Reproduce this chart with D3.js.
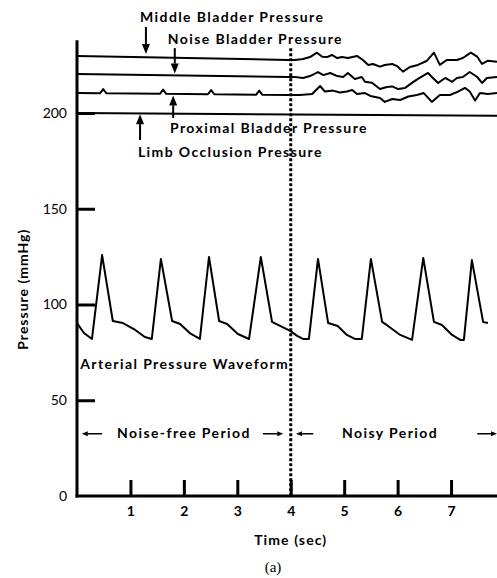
<!DOCTYPE html>
<html>
<head>
<meta charset="utf-8">
<script src="https://cdn.jsdelivr.net/npm/d3@7"></script>
<style>
  body { margin: 0; background: #fff; }
  svg { display: block; }
  text { font-family: Lato, "Open Sans", sans-serif; fill: #000; }
</style>
</head>
<body>
<svg id="chart" width="497" height="578"></svg>
<script>
'use strict'

// tick labels
const yTicks = [0, 50, 100, 150, 200]
const xTicks = [1, 2, 3, 4, 5, 6, 7]

// arterial pressure waveform (sec, mmHg)
const arterialT = [0, 0.13, 0.28, 0.47, 0.67, 0.86, 1.09, 1.27, 1.40, 1.57, 1.78, 1.93, 2.11, 2.30, 2.47, 2.66, 2.81, 3.01, 3.22, 3.44, 3.65, 3.80, 3.99, 4.12, 4.23, 4.34, 4.51, 4.70, 4.88, 5.05, 5.20, 5.33, 5.50, 5.71, 5.82, 6.05, 6.27, 6.48, 6.68, 6.83, 7.02, 7.17, 7.24, 7.39, 7.60, 7.69]
const arterialP = [90.3, 85.1, 82.0, 125.8, 91.4, 90.3, 86.7, 83.0, 82.0, 123.8, 91.4, 89.8, 85.1, 82.0, 124.8, 91.4, 89.8, 84.6, 82.0, 124.8, 90.9, 88.8, 86.2, 83.6, 82.0, 82.0, 123.8, 90.3, 88.8, 84.1, 82.0, 82.0, 123.8, 90.9, 88.8, 84.1, 81.5, 124.3, 90.9, 89.3, 84.1, 81.5, 81.5, 123.2, 90.9, 90.3]

// middle bladder pressure
const middleT = [0, 3.95, 4.08, 4.23, 4.36, 4.49, 4.59, 4.68, 4.77, 4.87, 4.96, 5.07, 5.24, 5.35, 5.45, 5.54, 5.67, 5.76, 5.90, 5.99, 6.10, 6.23, 6.38, 6.55, 6.68, 6.79, 6.92, 7.11, 7.22, 7.37, 7.49, 7.58, 7.69, 7.86]
const middleP = [229.8, 227.7, 227.7, 228.2, 229.2, 231.5, 229.4, 229.2, 230.3, 228.7, 229.2, 228.7, 229.8, 227.7, 225.1, 225.6, 224.2, 225.1, 225.6, 224.5, 221.6, 224.0, 225.1, 227.3, 231.5, 225.1, 227.7, 227.7, 228.7, 231.5, 229.4, 225.6, 227.3, 226.8]

// noise bladder pressure
const noiseT = [0, 3.95, 4.08, 4.23, 4.36, 4.51, 4.61, 4.74, 4.87, 4.98, 5.07, 5.20, 5.33, 5.39, 5.52, 5.67, 5.80, 5.90, 6.01, 6.14, 6.27, 6.38, 6.57, 6.66, 6.76, 6.89, 7.02, 7.11, 7.22, 7.35, 7.49, 7.58, 7.67, 7.86]
const noiseP = [220.4, 218.8, 218.8, 218.3, 219.3, 221.4, 219.8, 220.9, 219.3, 218.8, 220.9, 217.8, 218.8, 216.3, 215.8, 212.5, 213.6, 213.9, 212.5, 213.1, 215.7, 217.8, 220.9, 218.3, 215.7, 218.3, 216.3, 218.3, 218.8, 221.4, 218.8, 215.7, 218.3, 218.8]

// proximal bladder pressure (small pulse artifacts before the noise)
const proximalT = [0, 0.43, 0.49, 0.55, 1.55, 1.61, 1.67, 2.45, 2.51, 2.57, 3.35, 3.41, 3.47, 3.95, 4.17, 4.40, 4.55, 4.64, 4.79, 4.92, 5.05, 5.15, 5.24, 5.39, 5.49, 5.67, 5.76, 5.90, 6.05, 6.20, 6.36, 6.49, 6.64, 6.79, 6.98, 7.13, 7.26, 7.35, 7.45, 7.54, 7.69, 7.86]
const proximalP = [210.4, 210.3, 212.5, 210.3, 210.0, 212.2, 210.0, 209.8, 212.0, 209.8, 209.5, 211.7, 209.5, 209.4, 209.4, 209.9, 214.1, 211.2, 211.7, 210.7, 211.2, 212.0, 209.9, 210.4, 208.9, 207.8, 205.8, 207.3, 206.8, 208.6, 209.4, 210.4, 205.8, 209.4, 209.4, 211.2, 213.1, 211.2, 206.5, 210.4, 209.9, 210.4]

// limb occlusion pressure
const limbT = [0, 7.86]
const limbP = [200.0, 198.6]

const svg = d3.select('#chart')

const x = d3.scaleLinear().domain([0, 7.86]).range([77, 497])
const y = d3.scaleLinear().domain([0, 200]).range([496, 113])

// axes
svg.append('g')
  .attr('transform', `translate(${x(0)},0)`)
  .call(d3.axisRight(y).tickValues(yTicks.filter(d => d > 0)).tickSize(18).tickFormat(''))
  .call(g => g.select('.domain').remove())
  .call(g => g.selectAll('line').attr('stroke', '#000').attr('stroke-width', 3))

svg.append('g')
  .attr('transform', `translate(${x(0)},0)`)
  .call(d3.axisLeft(y).tickValues(yTicks).tickSize(0).tickPadding(10))
  .call(g => g.select('.domain').remove())
  .call(g => g.selectAll('text').style('font-family', 'Lato').style('font-size', '14px').attr('fill', '#000'))

svg.append('g')
  .attr('transform', `translate(0,${y(0)})`)
  .call(d3.axisTop(x).tickValues(xTicks).tickSize(16).tickFormat(''))
  .call(g => g.select('.domain').remove())
  .call(g => g.selectAll('line').attr('stroke', '#000').attr('stroke-width', 3))

svg.append('g')
  .attr('transform', `translate(0,${y(0)})`)
  .call(d3.axisBottom(x).tickValues(xTicks).tickSize(0).tickPadding(10))
  .call(g => g.select('.domain').remove())
  .call(g => g.selectAll('text').style('font-family', 'Lato').style('font-size', '14px').style('font-weight', 700).attr('fill', '#000'))

// axis lines
svg.append('line')
  .attr('x1', x(0)).attr('x2', x(0))
  .attr('y1', y(238)).attr('y2', y(0) + 1.5)
  .attr('stroke', '#000').attr('stroke-width', 3)
svg.append('line')
  .attr('x1', x(0) - 1.5).attr('x2', x(7.86))
  .attr('y1', y(0)).attr('y2', y(0))
  .attr('stroke', '#000').attr('stroke-width', 3)

// boundary between the two periods
svg.append('line')
  .attr('x1', x(4)).attr('x2', x(4))
  .attr('y1', y(233.8)).attr('y2', y(0))
  .attr('stroke', '#000').attr('stroke-width', 3)
  .attr('stroke-dasharray', '3,2')

// traces
const line = d3.line().x(d => x(d[0])).y(d => y(d[1]))
const traces = [
  [arterialT, arterialP],
  [middleT, middleP],
  [noiseT, noiseP],
  [proximalT, proximalP],
  [limbT, limbP]
]
svg.append('g').selectAll('path')
  .data(traces.map(([ts, ps]) => ts.map((t, i) => [t, ps[i]])))
  .join('path')
  .attr('d', line)
  .attr('fill', 'none')
  .attr('stroke', '#000')
  .attr('stroke-width', 2)
  .attr('stroke-linejoin', 'round')

// arrows: from (t0,v0) to tip (t1,v1)
function arrow(t0, v0, t1, v1, w, head, hw) {
  const x0 = x(t0), y0 = y(v0), x1 = x(t1), y1 = y(v1)
  const a = Math.atan2(y1 - y0, x1 - x0)
  const bx = x1 - head * Math.cos(a), by = y1 - head * Math.sin(a)
  svg.append('line')
    .attr('x1', x0).attr('y1', y0).attr('x2', bx).attr('y2', by)
    .attr('stroke', '#000').attr('stroke-width', w)
  const px = -Math.sin(a) * hw / 2, py = Math.cos(a) * hw / 2
  svg.append('path')
    .attr('d', `M${x1},${y1}L${bx + px},${by + py}L${bx - px},${by - py}Z`)
    .attr('fill', '#000')
}

arrow(1.29, 244.9, 1.29, 230.8, 2, 10, 8)
arrow(1.83, 233.9, 1.83, 220.6, 2, 10, 8)
arrow(1.80, 197.4, 1.80, 209.2, 2, 10, 8)
arrow(1.18, 185.9, 1.18, 199.4, 2, 10, 8)

arrow(0.47, 32.5, 0.09, 32.5, 1.5, 6, 5)
arrow(3.48, 32.5, 3.86, 32.5, 1.5, 6, 5)
arrow(4.42, 32.5, 4.10, 32.5, 1.5, 6, 5)
arrow(7.49, 32.5, 7.86, 32.5, 1.5, 6, 5)

// labels
const labels = [
  ['Middle Bladder Pressure', 1.18, 247.5],
  ['Noise Bladder Pressure', 1.70, 236.0],
  ['Proximal Bladder Pressure', 1.74, 189.6],
  ['Limb Occlusion Pressure', 1.14, 177.0],
  ['Arterial Pressure Waveform', 0.06, 66.3],
  ['Noise-free Period', 0.75, 30.3],
  ['Noisy Period', 4.96, 30.3]
]
svg.append('g').selectAll('text')
  .data(labels)
  .join('text')
  .attr('x', d => x(d[1]))
  .attr('y', d => y(d[2]))
  .style('font-size', '14px')
  .style('font-weight', 700)
  .style('letter-spacing', '1.4px')
  .text(d => d[0])

svg.append('text')
  .attr('transform', `translate(28,${y(108)}) rotate(-90)`)
  .attr('text-anchor', 'middle')
  .style('font-size', '14px')
  .style('font-weight', 700)
  .style('letter-spacing', '1px')
  .text('Pressure (mmHg)')

svg.append('text')
  .attr('x', x(4)).attr('y', 545)
  .attr('text-anchor', 'middle')
  .style('font-size', '14px')
  .style('font-weight', 700)
  .style('letter-spacing', '1.1px')
  .text('Time (sec)')

svg.append('text')
  .attr('x', 273).attr('y', 572)
  .attr('text-anchor', 'middle')
  .style('font-family', '"Liberation Serif", "DejaVu Serif", serif')
  .style('font-size', '15px')
  .text('(a)')
</script>
</body>
</html>
